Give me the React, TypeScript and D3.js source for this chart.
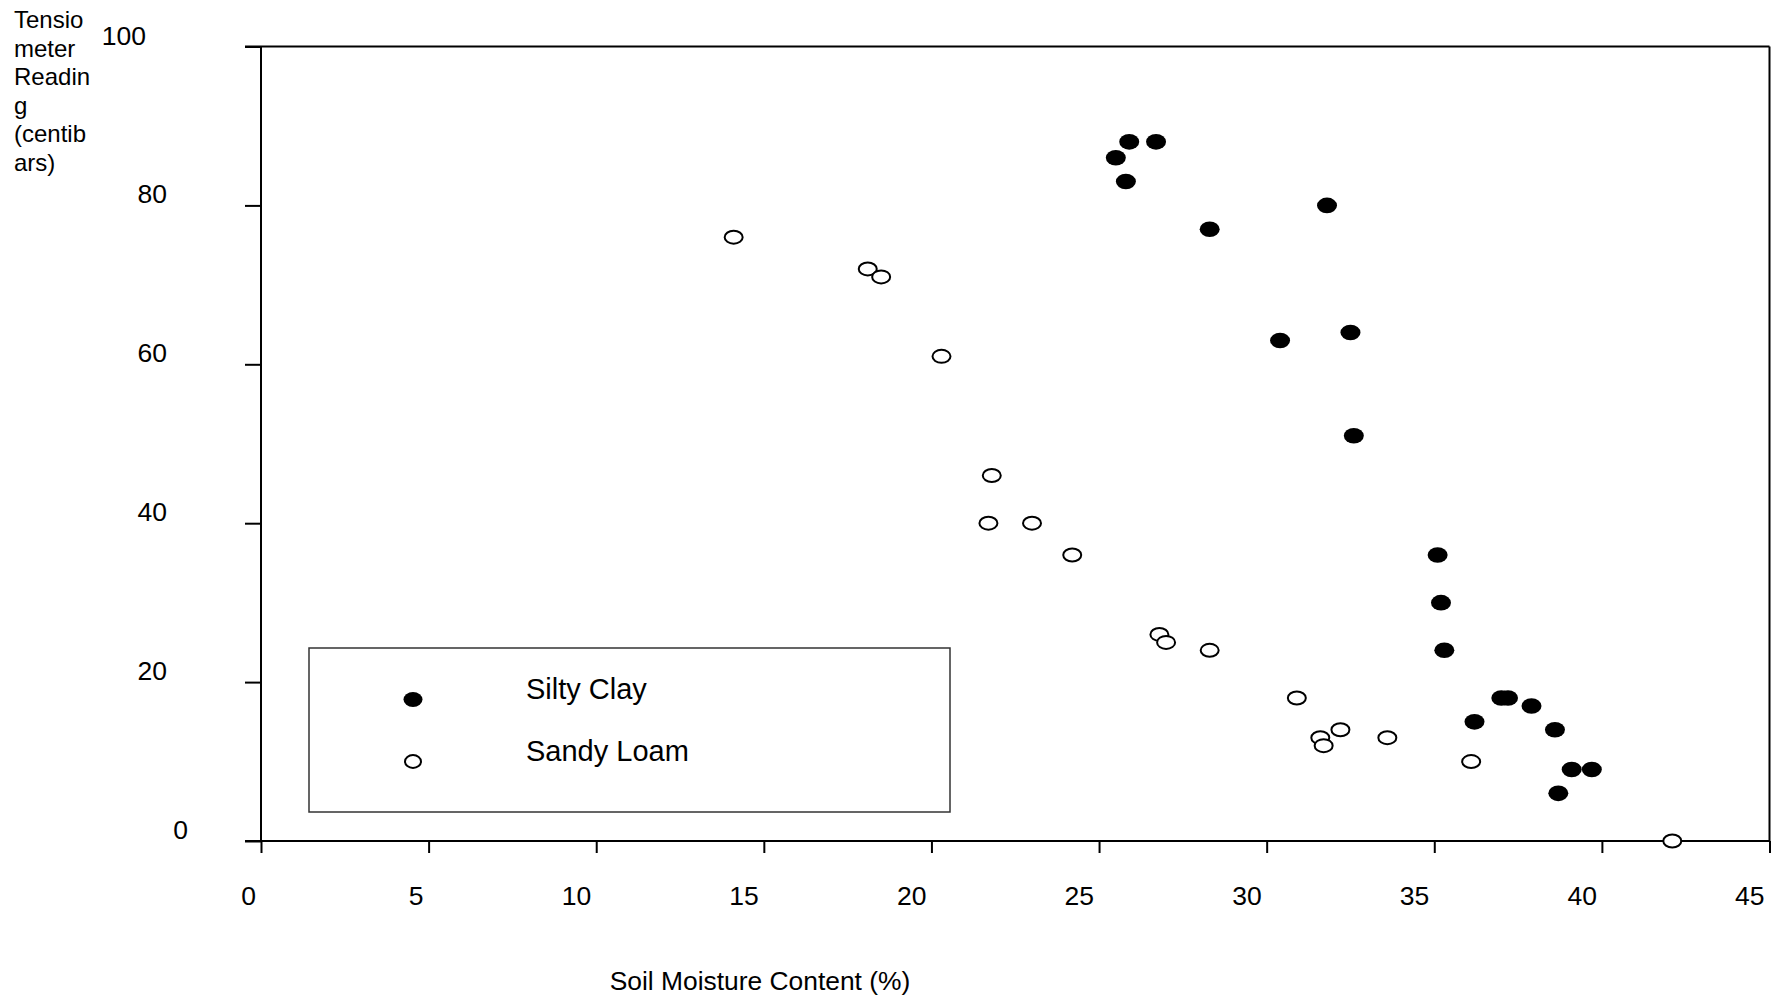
import React, { useEffect, useRef } from "react";
import * as d3 from "d3";

// Silty Clay (filled markers)
const siltyClayX = [25.5, 25.9, 26.7, 25.8, 28.3, 31.8, 30.4, 32.5, 32.6, 35.1, 35.2, 35.3, 37.0, 37.2, 37.9, 36.2, 38.6, 39.1, 39.7, 38.7];
const siltyClayY = [86, 88, 88, 83, 77, 80, 63, 64, 51, 36, 30, 24, 18, 18, 17, 15, 14, 9, 9, 6];

// Sandy Loam (open markers)
const sandyLoamX = [14.1, 18.1, 18.5, 20.3, 21.8, 21.7, 23.0, 24.2, 26.8, 27.0, 28.3, 30.9, 31.6, 31.7, 32.2, 33.6, 36.1, 42.1];
const sandyLoamY = [76, 72, 71, 61, 46, 40, 40, 36, 26, 25, 24, 18, 13, 12, 14, 13, 10, 0];

const xTicks = [0, 5, 10, 15, 20, 25, 30, 35, 40, 45];
const yTicks = [0, 20, 40, 60, 80, 100];
const yTitleLines = ["Tensio", "meter", "Readin", "g", "(centib", "ars)"];
const legendLabels = ["Silty Clay", "Sandy Loam"];

const App = () => {
  const ref = useRef<SVGSVGElement>(null);

  useEffect(() => {
    const width = 1773;
    const height = 999;
    const font = "'Liberation Sans', Arial, sans-serif";

    const svg = d3.select(ref.current).attr("width", width).attr("height", height);
    svg.selectAll("*").remove();

    const x = d3.scaleLinear().domain([0, 45]).range([261, 1769.5]);
    const y = d3.scaleLinear().domain([0, 100]).range([841, 46.5]);

    const g = svg.append("g");

    // frame: top and right edges
    g.append("line")
      .attr("x1", x(0) - 16).attr("x2", x(45))
      .attr("y1", y(100)).attr("y2", y(100))
      .attr("stroke", "#000").attr("stroke-width", 2);
    g.append("line")
      .attr("x1", x(45)).attr("x2", x(45))
      .attr("y1", y(100)).attr("y2", y(0))
      .attr("stroke", "#000").attr("stroke-width", 2);

    // x axis
    const xAxis = d3.axisBottom(x).tickValues(xTicks).tickSize(12).tickFormat(() => "");
    const xg = g.append("g").attr("transform", `translate(0,${y(0)})`).call(xAxis);
    xg.select(".domain").remove();
    xg.selectAll("line").attr("stroke", "#000").attr("stroke-width", 2);
    g.append("line")
      .attr("x1", x(0) - 16).attr("x2", x(45))
      .attr("y1", y(0)).attr("y2", y(0))
      .attr("stroke", "#000").attr("stroke-width", 2);

    g.selectAll(".xlab")
      .data(xTicks)
      .enter()
      .append("text")
      .attr("x", d => x(d) - 5)
      .attr("y", 905)
      .attr("text-anchor", "end")
      .attr("font-family", font)
      .attr("font-size", "26.5px")
      .attr("fill", "#000")
      .text(d => d);

    // y axis
    const yAxis = d3.axisLeft(y).tickValues(yTicks).tickSize(16).tickFormat(() => "");
    const yg = g.append("g").attr("transform", `translate(${x(0)},0)`).call(yAxis);
    yg.select(".domain").remove();
    yg.selectAll("line").attr("stroke", "#000").attr("stroke-width", 2);
    g.append("line")
      .attr("x1", x(0)).attr("x2", x(0))
      .attr("y1", y(100)).attr("y2", y(0))
      .attr("stroke", "#000").attr("stroke-width", 2);

    g.selectAll(".ylab")
      .data(yTicks)
      .enter()
      .append("text")
      .attr("x", d => 167 + (2 - String(d).length) * 21)
      .attr("y", d => y(d) - 2)
      .attr("text-anchor", "end")
      .attr("font-family", font)
      .attr("font-size", "26.5px")
      .attr("fill", "#000")
      .text(d => d);

    // axis titles
    const yt = g.append("text")
      .attr("font-family", font)
      .attr("font-size", "24px")
      .attr("fill", "#000");
    yTitleLines.forEach((line, i) => {
      yt.append("tspan")
        .attr("x", 14)
        .attr("y", 28 + i * 28.5)
        .text(line);
    });

    g.append("text")
      .attr("x", 760)
      .attr("y", 990)
      .attr("text-anchor", "middle")
      .attr("font-family", font)
      .attr("font-size", "26.4px")
      .attr("fill", "#000")
      .text("Soil Moisture Content (%)");

    // legend
    const lg = g.append("g");
    lg.append("rect")
      .attr("x", 309).attr("y", 648)
      .attr("width", 641).attr("height", 164)
      .attr("fill", "#fff")
      .attr("stroke", "#333").attr("stroke-width", 1.5);
    legendLabels.forEach((label, i) => {
      const cy = 699.5 + i * 62;
      lg.append("ellipse")
        .attr("cx", 413).attr("cy", cy)
        .attr("rx", i === 0 ? 9.5 : 8).attr("ry", i === 0 ? 7.5 : 6.5)
        .attr("fill", i === 0 ? "#000" : "#fff")
        .attr("stroke", "#000")
        .attr("stroke-width", i === 0 ? 0 : 2);
      lg.append("text")
        .attr("x", 526)
        .attr("y", 699 + i * 61.5)
        .attr("font-family", font)
        .attr("font-size", "29px")
        .attr("fill", "#000")
        .text(label);
    });

    // points
    const sandy = d3.zip(sandyLoamX, sandyLoamY);
    g.selectAll(".sandy")
      .data(sandy)
      .enter()
      .append("ellipse")
      .attr("cx", d => x(d[0]))
      .attr("cy", d => y(d[1]))
      .attr("rx", 9)
      .attr("ry", 6.5)
      .attr("fill", "#fff")
      .attr("stroke", "#000")
      .attr("stroke-width", 2);

    const silty = d3.zip(siltyClayX, siltyClayY);
    g.selectAll(".silty")
      .data(silty)
      .enter()
      .append("ellipse")
      .attr("cx", d => x(d[0]))
      .attr("cy", d => y(d[1]))
      .attr("rx", 10)
      .attr("ry", 7.8)
      .attr("fill", "#000");
  }, []);

  return (
    <svg
      ref={ref}
      style={{ position: "absolute", left: 0, top: 0, background: "#fff" }}
    ></svg>
  );
};

export default App;
